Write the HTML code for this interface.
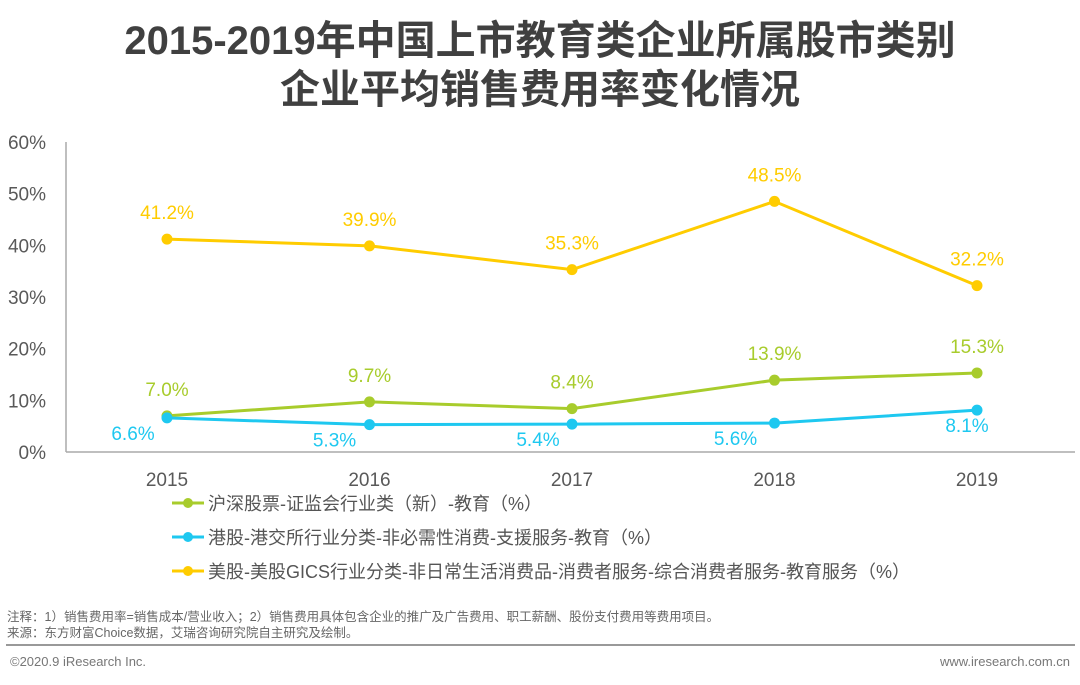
<!DOCTYPE html>
<html><head><meta charset="utf-8"><style>
body{margin:0;background:#fff;}
svg text{font-family:"Liberation Sans","Noto Sans CJK SC",sans-serif;}
</style></head><body>
<svg id="chart" width="1080" height="680" xmlns="http://www.w3.org/2000/svg">
<text x="540" y="54" text-anchor="middle" font-size="40" font-weight="bold" fill="#404040">2015-2019年中国上市教育类企业所属股市类别</text>
<text x="540" y="103" text-anchor="middle" font-size="40" font-weight="bold" fill="#404040">企业平均销售费用率变化情况</text>
<g id="axes"></g><g id="series"></g>
<g>
 <g><line x1="172" y1="503" x2="204" y2="503" stroke="#a8cc2c" stroke-width="3"/><circle cx="188" cy="503" r="5" fill="#a8cc2c"/><text x="208" y="510" font-size="18" fill="#555">沪深股票-证监会行业类（新）-教育（%）</text></g>
 <g><line x1="172" y1="537" x2="204" y2="537" stroke="#1ec8f0" stroke-width="3"/><circle cx="188" cy="537" r="5" fill="#1ec8f0"/><text x="208" y="544" font-size="18" fill="#555">港股-港交所行业分类-非必需性消费-支援服务-教育（%）</text></g>
 <g><line x1="172" y1="571" x2="204" y2="571" stroke="#ffcc00" stroke-width="3"/><circle cx="188" cy="571" r="5" fill="#ffcc00"/><text x="208" y="578" font-size="18" fill="#555">美股-美股GICS行业分类-非日常生活消费品-消费者服务-综合消费者服务-教育服务（%）</text></g>
</g>
<text x="7" y="621" font-size="12.5" fill="#666">注释：1）销售费用率=销售成本/营业收入；2）销售费用具体包含企业的推广及广告费用、职工薪酬、股份支付费用等费用项目。</text>
<text x="7" y="637" font-size="12.5" fill="#666">来源：东方财富Choice数据，艾瑞咨询研究院自主研究及绘制。</text>
<line x1="6" y1="645" x2="1075" y2="645" stroke="#999" stroke-width="2"/>
<text x="10" y="666" font-size="13" fill="#777">©2020.9 iResearch Inc.</text>
<text x="1070" y="666" font-size="13" fill="#777" text-anchor="end">www.iresearch.com.cn</text>
</svg>
<script>
const years=["2015","2016","2017","2018","2019"];
const aShare=[7.0,9.7,8.4,13.9,15.3];
const hkShare=[6.6,5.3,5.4,5.6,8.1];
const usShare=[41.2,39.9,35.3,48.5,32.2];
const yTicks=[0,10,20,30,40,50,60];
const NS="http://www.w3.org/2000/svg";
const x0=167,x1=977,yBase=452,yTop=142,yMax=60;
function xs(i){return x0+(x1-x0)*i/(years.length-1);}
function ys(v){return yBase-(yBase-yTop)*v/yMax;}
function mk(tag,attrs,parent){const e=document.createElementNS(NS,tag);for(const k in attrs)e.setAttribute(k,attrs[k]);parent.appendChild(e);return e;}
const ax=document.getElementById('axes');
let l=mk('line',{x1:66,y1:yTop,x2:66,y2:yBase,stroke:'#aaa','stroke-width':1.5},ax);


l=mk('line',{x1:66,y1:yBase,x2:1075,y2:yBase,stroke:'#aaa','stroke-width':1.5},ax);


yTicks.forEach(t=>{const e=mk('text',{x:46,y:ys(t)+7,'font-size':19,fill:'#595959','text-anchor':'end'},ax);e.textContent=t+'%';

});
years.forEach((yv,i)=>{const e=mk('text',{x:xs(i),y:486,'font-size':19,fill:'#595959','text-anchor':'middle'},ax);e.textContent=yv;

});
const sg=document.getElementById('series');
function draw(vals,color,name,below,dxs){
 const g=mk('g',{},sg);
 
 
 const p=mk('polyline',{points:vals.map((v,i)=>xs(i)+','+ys(v)).join(' '),fill:'none',stroke:color,'stroke-width':3},g);
 
 
 vals.forEach((v,i)=>{
  const c=mk('circle',{cx:xs(i),cy:ys(v),r:5.5,fill:color},g);
  
  
  const t=mk('text',{x:xs(i)+dxs[i],y:below?ys(v)+22:ys(v)-20,'font-size':19,fill:color,'text-anchor':'middle'},g);
  t.textContent=v.toFixed(1)+'%';
  
  
 });
}
draw(usShare,'#ffcc00','us-share',false,[0,0,0,0,0]);
draw(aShare,'#a8cc2c','a-share',false,[0,0,0,0,0]);
draw(hkShare,'#1ec8f0','hk-share',true,[-34,-35,-34,-39,-10]);
</script>
</body></html>
